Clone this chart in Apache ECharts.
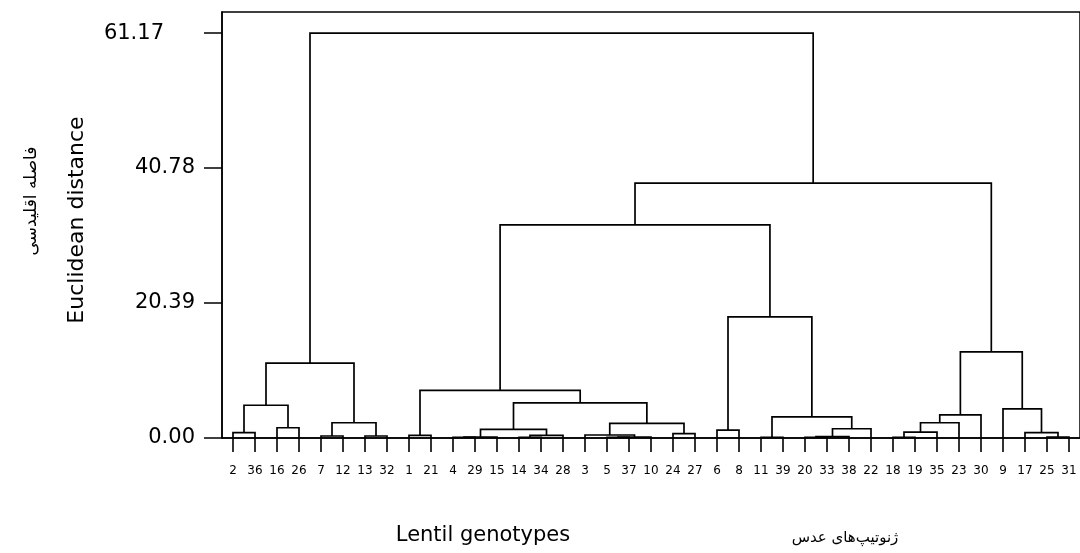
<!DOCTYPE html>
<html><head><meta charset="utf-8">
<script src="https://cdn.jsdelivr.net/npm/echarts@6/dist/echarts.min.js"></script>
<style>html,body{margin:0;padding:0;background:#fff}#c{width:1080px;height:553px}</style>
</head><body><div id="c"></div>
<script>
// Leaf labels in display order (dendrogram leaves, left to right)
const leafLabels = ['2','36','16','26','7','12','13','32','1','21','4','29','15','14','34','28','3','5','37','10','24','27','6','8','11','39','20','33','38','22','18','19','35','23','30','9','17','25','31'];
// Linkage: children are leaf positions (0-38) or earlier merges (39 + k)
const mergeLeft   = [0, 2, 39, 4, 6, 42, 41, 8, 10, 47, 13, 49, 48, 17, 52, 16, 20, 54, 51, 46, 22, 24, 26, 61, 62, 60, 59, 58, 30, 67, 68, 69, 37, 36, 35, 70, 66, 45];
const mergeRight  = [1, 3, 40, 5, 7, 43, 44, 9, 11, 12, 14, 15, 50, 18, 19, 53, 21, 55, 56, 57, 23, 25, 27, 28, 29, 63, 64, 65, 31, 32, 33, 34, 38, 71, 72, 73, 74, 75];
const mergeHeight = [0.8, 1.55, 4.95, 0.3, 0.3, 2.3, 11.3, 0.4, 0.08, 0.15, 0.08, 0.4, 1.3, 0.08, 0.15, 0.45, 0.65, 2.2, 5.3, 7.2, 1.2, 0.1, 0.1, 0.2, 1.4, 3.2, 18.3, 32.2, 0.1, 0.9, 2.3, 3.5, 0.15, 0.8, 4.4, 13.0, 38.5, 61.17];
const yTicks = [0, 20.39, 40.78, 61.17];
const yMax = 64.35;

const nLeaf = leafLabels.length;
const pos = [], hgt = [];
for (let i = 0; i < nLeaf; i++) { pos.push(i); hgt.push(0); }
const links = [];
for (let k = 0; k < mergeLeft.length; k++) {
  const a = mergeLeft[k], b = mergeRight[k], h = mergeHeight[k];
  links.push({ coords: [[pos[a], hgt[a]], [pos[a], h], [pos[b], h], [pos[b], hgt[b]]] });
  pos.push((pos[a] + pos[b]) / 2); hgt.push(h);
}

const chart = echarts.init(document.getElementById('c'), null, { renderer: 'canvas' });
const F = 'DejaVu Sans';
chart.setOption({
  animation: false,
  backgroundColor: '#fff',
  grid: { left: 222, top: 12, width: 862, height: 426, show: true, borderColor: '#000', borderWidth: 1.5, backgroundColor: 'transparent' },
  xAxis: [
    { type: 'category', data: leafLabels, boundaryGap: true, position: 'bottom',
      axisLine: { show: true, onZero: false, lineStyle: { color: '#000', width: 1.5 } },
      axisTick: { show: true, alignWithLabel: true, length: 14, lineStyle: { color: '#000', width: 1.6 } },
      axisLabel: { color: '#000', fontFamily: F, fontSize: 12, margin: 27, interval: 0 },
      splitLine: { show: false } },
    { type: 'value', min: -0.5, max: nLeaf - 0.5, show: false, splitLine: { show: false } }
  ],
  yAxis: { type: 'value', min: 0, max: yMax, interval: 20.39,
    axisLine: { show: true, onZero: false, lineStyle: { color: '#000', width: 1.5 } },
    axisTick: { show: true, length: 18, customValues: yTicks, lineStyle: { color: '#000', width: 1.5 } },
    axisLabel: { customValues: yTicks, color: '#000', margin: 27, fontFamily: F, fontSize: 21,
      formatter: v => (Math.abs(v - 61.17) < 1e-6 ? '{far|' + v.toFixed(2) + '}' : '{n|' + v.toFixed(2) + '}'),
      rich: { far: { fontFamily: F, fontSize: 21, color: '#000', padding: [0, 31, 0, 0] },
              n: { fontFamily: F, fontSize: 21, color: '#000' } } },
    splitLine: { show: false } },
  series: [{
    type: 'lines', coordinateSystem: 'cartesian2d', xAxisIndex: 1, yAxisIndex: 0,
    polyline: true, silent: true, data: links,
    lineStyle: { color: '#000', width: 1.7, opacity: 1 }
  }],
  graphic: [
    { type: 'text', x: 483, y: 536, style: { text: 'Lentil genotypes', font: '21px "DejaVu Sans"', fill: '#000', align: 'center', verticalAlign: 'middle' } },
    { type: 'text', x: 845, y: 538, style: { text: 'ژنوتیپ‌های عدس', font: '15px "DejaVu Sans"', fill: '#000', align: 'center', verticalAlign: 'middle' } },
    { type: 'text', x: 77, y: 220, rotation: Math.PI / 2, style: { text: 'Euclidean distance', font: '22px "DejaVu Sans"', fill: '#000', align: 'center', verticalAlign: 'middle' } },
    { type: 'text', x: 32, y: 201, rotation: Math.PI / 2, style: { text: 'فاصله اقلیدسی', font: '17px "DejaVu Sans"', fill: '#000', align: 'center', verticalAlign: 'middle' } }
  ]
});
</script></body></html>
